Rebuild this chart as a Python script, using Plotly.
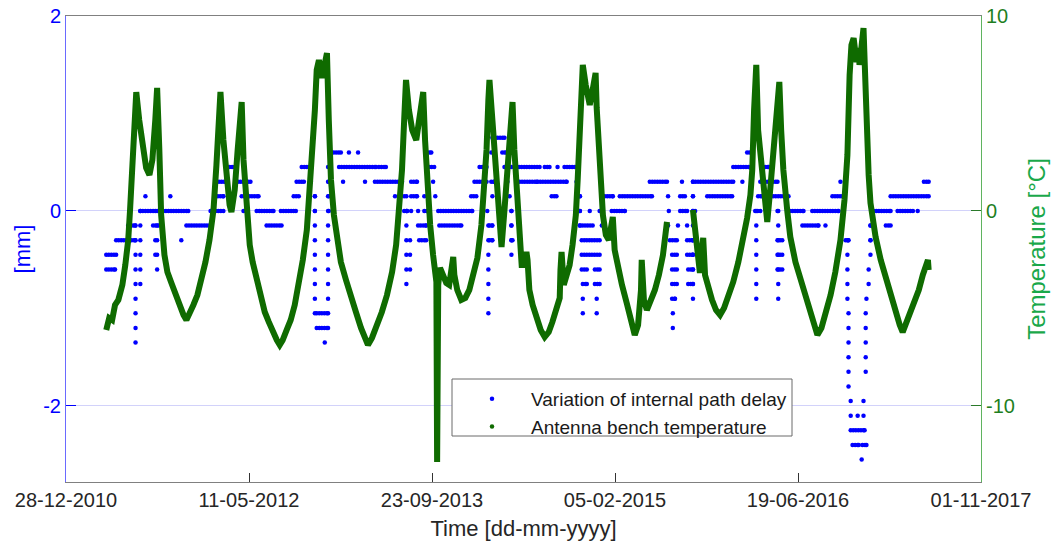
import numpy as np
import pandas as pd
import plotly.graph_objects as go

EPOCH = pd.Timestamp("2010-12-28")
X_END = pd.Timestamp("2017-11-01")

# Axis ticks
x_tick_dates = ["2010-12-28", "2012-05-11", "2013-09-23", "2015-02-05", "2016-06-19", "2017-11-01"]
x_tick_text = ["28-12-2010", "11-05-2012", "23-09-2013", "05-02-2015", "19-06-2016", "01-11-2017"]
y_mm_ticks = [-2, 0, 2]
y_mm_text = ["-2", "0", "2"]
y_temp_ticks = [-10, 0, 10]
y_temp_text = ["-10", "0", "10"]

# Antenna bench temperature [degC], sampled in days since EPOCH (two logging periods)
temp_day_1 = [110, 118, 126, 134, 143, 154, 162, 170, 175, 181, 186, 192, 200, 211, 219, 228, 236, 244, 249, 255,
              260, 269, 277, 288, 299, 310, 321, 329, 337, 348, 359, 370, 381, 392, 403, 411, 417, 422, 430, 439,
              447, 452, 461, 469, 474, 480, 485, 493, 502, 510, 521, 532, 543, 554, 565, 576, 584, 592, 603, 614,
              625, 636, 647, 658, 666, 674, 680, 685, 691, 699, 707, 713, 718, 724, 732, 740, 751, 765, 778, 792,
              806, 817, 825, 836, 850, 863, 877, 891, 902, 910, 918, 924, 929, 937, 946, 957, 965, 970, 976, 981,
              987, 995, 1003, 1009, 1012, 1014, 1017, 1022, 1031, 1039, 1047, 1055, 1058, 1061, 1069, 1080, 1091,
              1102, 1113, 1124, 1135, 1143, 1149, 1154, 1157, 1165, 1170, 1179, 1184, 1190, 1198, 1203, 1212, 1220,
              1225, 1231, 1239, 1245, 1253, 1258, 1261, 1266, 1275, 1286, 1297, 1308, 1319, 1329, 1340, 1349, 1351,
              1354, 1360, 1368, 1376, 1384, 1393, 1398, 1403, 1409, 1412, 1420, 1431, 1439, 1447, 1450, 1458, 1467,
              1475, 1483, 1488, 1494, 1499, 1508, 1519, 1532, 1543, 1554, 1563, 1571, 1573, 1579, 1587, 1598, 1609,
              1620, 1631, 1642]
temp_c_1 = [-6.10, -5.49, -5.59, -4.82, -4.56, -3.79, -2.77, -1.49, 0.05, 2.10, 4.15, 6.10, 4.67, 2.87, 2.21, 1.85, 2.62, 4.67, 6.31, 3.13,
            -0.21, -2.26, -3.13, -3.69, -4.31, -4.82, -5.33, -5.59, -5.18, -4.82, -4.31, -3.54, -2.62, -1.49, 0.05, 2.36, 4.41, 6.10, 3.64, 1.59,
            0.31, -0.05, 1.08, 3.13, 4.67, 5.59, 2.62, 0.05, -1.74, -2.62, -3.54, -4.46, -5.18, -5.69, -6.26, -6.62, -6.87, -6.62, -6.10, -5.59,
            -4.82, -3.79, -2.51, -0.97, 1.08, 3.13, 5.18, 7.23, 7.74, 6.82, 7.49, 8.10, 4.67, 1.59, -0.21, -1.49, -2.62, -3.54, -4.46, -5.18,
            -6.00, -6.62, -6.87, -6.51, -5.85, -5.18, -4.31, -3.13, -1.74, -0.21, 2.10, 4.67, 6.72, 5.18, 4.15, 3.64, 4.67, 5.69, 6.10, 3.64,
            1.59, -0.72, -2.26, -3.28, -3.64, -12.87, -3.79, -2.92, -3.28, -3.69, -3.79, -3.03, -2.36, -3.28, -4.05, -4.56, -4.46,
            -4.05, -3.28, -2.41, -0.72, 1.33, 3.13, 5.69, 6.72, 4.67, 3.13, 0.56, -0.97, -1.85, 0.05, 1.44, 3.64, 5.59,
            3.13, 1.44, -1.49, -2.77, -2.77, -2.10, -2.51, -4.05, -4.82, -5.59, -6.10, -6.46, -6.21, -5.69, -5.08, -4.46, -3.03,
            -2.10, -3.79, -3.28, -2.77, -1.74, -0.21, 1.59, 4.00, 6.21, 7.49, 6.46, 5.44, 6.21, 7.08, 5.28, 2.10, -0.21,
            -1.23, -1.49, -0.97, -0.31, -2.00, -2.92, -3.79, -4.72, -5.59, -6.36, -5.85, -4.05, -2.51, -4.56, -5.08, -4.56, -4.05,
            -3.28, -2.26, -0.56]
temp_day_2 = [1713, 1721, 1727, 1732, 1738, 1741, 1746, 1754, 1765, 1776, 1787, 1798, 1809, 1823, 1837, 1850, 1861, 1870,
              1875, 1880, 1886, 1891, 1900, 1908, 1916, 1924, 1933, 1941, 1949, 1954, 1960, 1971, 1979, 1993, 2007, 2020,
              2034, 2045, 2053, 2064, 2078, 2089, 2102, 2116, 2127, 2135, 2141, 2146, 2152, 2157, 2160, 2166, 2168, 2174,
              2179, 2182, 2187, 2193, 2198, 2212, 2226, 2240, 2253, 2267, 2278, 2286, 2297, 2308, 2319, 2330, 2341, 2349,
              2355, 2357]
temp_c_2 = [0.05, -1.49, -2.26, -3.18, -2.00, -1.38, -3.28, -3.95, -4.56, -5.08, -5.33, -4.97, -4.46, -3.64, -2.62, -1.49, -0.36, 0.82,
            2.10, 5.18, 7.49, 4.15, 2.36, 0.56, -0.56, 1.08, 3.13, 4.92, 6.62, 4.15, 2.10, -0.05, -1.33, -2.62, -3.54, -4.31,
            -5.18, -5.85, -6.36, -6.00, -5.08, -4.31, -3.13, -1.49, 0.56, 2.87, 6.97, 8.51, 8.87, 7.85, 7.64, 8.36, 7.49, 8.51,
            9.38, 7.74, 3.49, 1.85, 0.41, -1.33, -2.51, -3.44, -4.21, -5.08, -5.85, -6.21, -5.69, -5.18, -4.72, -4.05, -3.28, -2.77,
            -2.51, -3.03]

# Internal path delay variation [mm]: periods (first day, last day) spent at each 0.15 mm level,
# reported at weekly epochs
DELAY_STEP_DAYS = 7
runs_p075 = [(1165, 1198)]
runs_p060 = [(724, 751), (773, 773), (798, 798), (987, 998), (1162, 1170), (1192, 1203), (1861, 1875)]
runs_p045 = [(447, 463), (644, 669), (718, 718), (746, 847), (855, 874), (992, 1006), (1130, 1149), (1198, 1217),
             (1231, 1294), (1308, 1321), (1343, 1343), (1362, 1398), (1823, 1875), (1911, 1919)]
runs_p030 = [(411, 436), (463, 504), (630, 650), (669, 669), (718, 718), (757, 757), (817, 817), (844, 918), (943, 959),
             (1003, 1003), (1116, 1149), (1162, 1170), (1206, 1206), (1239, 1286), (1289, 1368), (1395, 1395),
             (1595, 1642), (1683, 1683), (1713, 1823), (1848, 1848), (1897, 1944), (2116, 2116), (2344, 2357)]
runs_p015 = [(217, 217), (285, 285), (408, 430), (480, 526), (622, 636), (680, 680), (718, 718), (899, 899), (924, 924),
             (943, 959), (979, 979), (1009, 1009), (1107, 1121), (1165, 1165), (1212, 1212), (1327, 1340), (1404, 1404),
             (1472, 1494), (1513, 1601), (1645, 1645), (1678, 1691), (1713, 1713), (1752, 1820), (1891, 1902),
             (1932, 1974), (2094, 2124), (2253, 2357)]
runs_0 = [(203, 244), (266, 334), (395, 430), (485, 485), (521, 567), (587, 628), (680, 680), (718, 718), (924, 932),
          (943, 943), (962, 962), (979, 987), (1017, 1110), (1151, 1151), (1217, 1217), (1404, 1404), (1431, 1431),
          (1458, 1458), (1491, 1527), (1647, 1647), (1678, 1697), (1713, 1719), (1883, 1897), (1944, 1944),
          (1971, 2015), (2039, 2111), (2207, 2253), (2272, 2314), (2327, 2327)]
runs_m015 = [(170, 189), (238, 252), (329, 397), (548, 589), (962, 984), (1020, 1080), (1157, 1165), (1217, 1217),
             (1404, 1439), (1464, 1464), (1645, 1645), (1672, 1672), (1697, 1697), (2012, 2056), (2075, 2075),
             (2198, 2198), (2240, 2253)]
runs_m030 = [(137, 189), (315, 315), (965, 984), (1157, 1165), (1217, 1220), (1409, 1458), (1650, 1669), (1697, 1713),
             (1944, 1957), (2130, 2138), (2198, 2198)]
runs_m045 = [(110, 137), (1409, 1458), (1656, 1669), (1697, 1713), (1944, 1957)]
runs_m060 = [(110, 134), (1409, 1423), (1445, 1458), (1656, 1669), (1700, 1713), (1944, 1957)]
runs_m075 = [(1412, 1423), (1445, 1458), (1656, 1669), (1700, 1713)]
runs_m090 = [(1656, 1664)]
runs_m105 = [(685, 713)]
runs_m120 = [(685, 713)]
runs_m135 = [(707, 707)]
runs_m210 = [(2163, 2163)]
runs_m225 = [(2144, 2182)]
runs_m240 = [(2149, 2166), (2176, 2187)]
runs_m255 = [(2174, 2174)]

delay_levels = [0.75, 0.60, 0.45, 0.30, 0.15, 0.0, -0.15, -0.30, -0.45, -0.60, -0.75, -0.90, -1.05, -1.20, -1.35,
                -2.10, -2.25, -2.40, -2.55]
delay_runs = [runs_p075, runs_p060, runs_p045, runs_p030, runs_p015, runs_0, runs_m015, runs_m030, runs_m045,
              runs_m060, runs_m075, runs_m090, runs_m105, runs_m120, runs_m135, runs_m210, runs_m225, runs_m240,
              runs_m255]

# Epochs with scattered solutions: (day, highest level, lowest level) [mm]
delay_columns = [(190, -0.15, -1.35), (203, 0.0, -0.75), (244, -0.30, -0.45), (249, 0.0, -0.60),
                 (680, 0.15, -1.05), (716, 0.45, -1.20), (930, 0.15, -0.75), (940, -0.30, -0.60),
                 (1154, -0.15, -1.05), (1217, 0.0, -0.45), (1404, 0.15, -0.15), (1412, -0.90, -1.05),
                 (1450, -0.90, -1.05), (1658, -1.05, -1.20), (1713, 0.30, -0.90), (1886, 0.0, -0.90),
                 (1946, 0.0, -0.90), (2135, -0.30, -0.90), (2138, -1.05, -1.80), (2144, -1.95, -2.10),
                 (2179, -1.95, -2.10), (2185, -1.05, -1.65), (2187, -0.90, -0.90), (2193, -0.60, -0.75),
                 (2198, -0.15, -0.45)]

# ---- assemble the delay samples ----
d_days, d_vals = [], []
for level, runs in zip(delay_levels, delay_runs):
    for start, end in runs:
        epochs = list(range(start, end + 1, DELAY_STEP_DAYS))
        if epochs[-1] != end:
            epochs.append(end)
        d_days += epochs
        d_vals += [level] * len(epochs)
for day, top, bottom in delay_columns:
    n = int(round((top - bottom) / 0.15)) + 1
    for i in range(n):
        d_days.append(day)
        d_vals.append(round(top - 0.15 * i, 2))

delay_dates = EPOCH + pd.to_timedelta(d_days, unit="D")

temp_dates = list(EPOCH + pd.to_timedelta(temp_day_1, unit="D")) + [None] + \
             list(EPOCH + pd.to_timedelta(temp_day_2, unit="D"))
temp_vals = temp_c_1 + [None] + temp_c_2

BLUE = "#0000ff"
GREEN = "#0f6b00"
FONT = "Liberation Sans, Arial, sans-serif"

fig = go.Figure()
fig.add_trace(go.Scatter(x=delay_dates, y=d_vals, mode="markers", yaxis="y",
                         marker=dict(color=BLUE, size=4.5, line=dict(width=0)),
                         name="Variation of internal path delay"))
fig.add_trace(go.Scatter(x=temp_dates, y=temp_vals, mode="lines", yaxis="y2",
                         line=dict(color=GREEN, width=6), connectgaps=False,
                         showlegend=False, name="Antenna bench temperature"))
fig.add_trace(go.Scatter(x=[None], y=[None], mode="markers", yaxis="y2",
                         marker=dict(color=GREEN, size=4.5),
                         name="Antenna bench temperature"))

# legend frame (drawn as a shape so its height follows the two text rows)
legend_box = dict(type="rect", xref="paper", yref="paper",
                  x0=(452 - 66) / 915, x1=(792 - 66) / 915,
                  y0=(482 - 436) / 466, y1=(482 - 379) / 466,
                  line=dict(color="#6b6b6b", width=1), fillcolor="white", layer="above")

fig.update_layout(
    width=1061, height=545,
    margin=dict(l=66, r=80, t=16, b=63, autoexpand=False),
    paper_bgcolor="white", plot_bgcolor="white",
    font=dict(family=FONT, size=20, color="#262626"),
    showlegend=True,
    shapes=[legend_box],
    legend=dict(x=(453 - 66) / 915, y=(482 - 380) / 466, xanchor="left", yanchor="top",
                bgcolor="rgba(0,0,0,0)", borderwidth=0, tracegroupgap=0,
                font=dict(size=19, color="#1a1a1a"), itemwidth=68),
    xaxis=dict(type="date", range=[EPOCH, X_END], tickvals=x_tick_dates, ticktext=x_tick_text,
               ticks="inside", ticklen=9, tickcolor="#333333", showline=True, linecolor="#808080",
               linewidth=1, mirror=True, showgrid=False, zeroline=False,
               tickfont=dict(size=20, color="#262626"),
               title=dict(text="Time [dd-mm-yyyy]", font=dict(size=22, color="#262626"), standoff=10)),
    yaxis=dict(range=[-2.78, 2], tickvals=y_mm_ticks, ticktext=y_mm_text, ticks="inside", ticklen=10,
               tickcolor=BLUE, showline=True, linecolor="#6a6aff", linewidth=1, showgrid=True,
               gridcolor="#d2d2fa", zeroline=False, tickfont=dict(size=20, color=BLUE),
               title=dict(text="[mm]", font=dict(size=22, color=BLUE), standoff=6)),
    yaxis2=dict(range=[-13.9, 10], tickvals=y_temp_ticks, ticktext=y_temp_text, overlaying="y", side="right",
                ticks="inside", ticklen=10, tickcolor="#2a7a2a", showline=True, linecolor="#5fb35f",
                linewidth=1, showgrid=False, zeroline=False,
                tickfont=dict(size=20, color="#1f7f1f"),
                title=dict(text="Temperature [°C]", font=dict(size=24, color="#1aa84a"), standoff=14)),
)

fig.write_html("out.html")
